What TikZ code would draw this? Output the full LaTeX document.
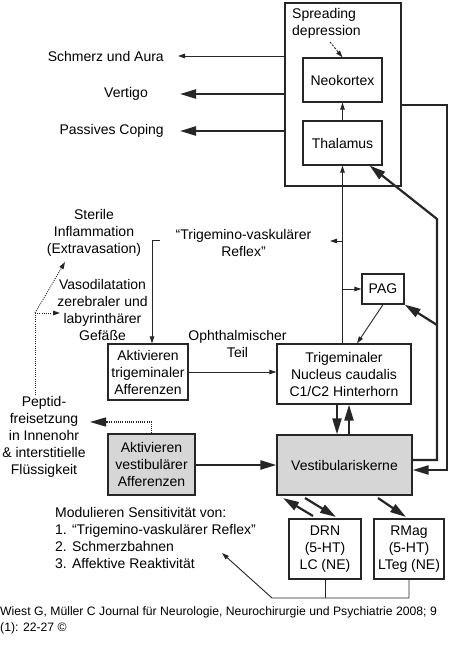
\documentclass[tikz,border=0pt]{standalone}
\usepackage{fontspec}
\setmainfont{Liberation Sans}
\usetikzlibrary{arrows.meta}
\newcommand\diagfont{\fontsize{14}{17}\selectfont}
\newcommand\capfont{\fontsize{12.2}{16}\selectfont}
\definecolor{ln}{HTML}{262626}
\definecolor{boxgray}{HTML}{D6D6D6}
\begin{document}
\begin{tikzpicture}[x=1pt,y=-1pt,
  box/.style={draw=ln,line width=1.2pt,inner sep=0pt,align=center,font=\diagfont,text=black},
  lab/.style={inner sep=0pt,align=center,font=\diagfont,text=black},
  thinline/.style={draw=ln,line width=0.9pt},
  thinarr/.style={thinline,-{Triangle[length=7pt,width=4.5pt]}},
  thickline/.style={draw=ln,line width=2.2pt},
  thickarr/.style={thickline,-{Triangle[length=16pt,width=9pt]}},
  dotline/.style={dash pattern=on 1pt off 1.2pt}
]
\fill[white] (0,0) rectangle (450,661);
\useasboundingbox (0,0) rectangle (450,661);

% boxes
\node[box,minimum width=116pt,minimum height=183pt] (brain) at (343,94.5) {};
\node[box,minimum width=79pt,minimum height=44pt] (neo) at (342.5,80) {Neokortex};
\node[box,minimum width=79pt,minimum height=44pt] (thal) at (342.5,143) {Thalamus};
\node[box,minimum width=42pt,minimum height=30pt] (pag) at (383,289) {PAG};
\node[box,minimum width=134pt,minimum height=60pt] (trig) at (344,374) {Trigeminaler\\Nucleus caudalis\\C1/C2 Hinterhorn};
\node[box,minimum width=80pt,minimum height=56pt] (atrig) at (148,372) {Aktivieren\\trigeminaler\\Afferenzen};
\node[box,fill=boxgray,minimum width=87pt,minimum height=61pt] (avest) at (151.5,464.5) {Aktivieren\\vestibulärer\\Afferenzen};
\node[box,fill=boxgray,minimum width=135pt,minimum height=60pt] (vest) at (344.5,465) {Vestibulariskerne};
\node[box,minimum width=72pt,minimum height=60pt] (drn) at (325,549) {DRN\\(5-HT)\\LC (NE)};
\node[box,minimum width=70pt,minimum height=60pt] (rmag) at (409,549) {RMag\\(5-HT)\\LTeg (NE)};

% labels
\node[lab,anchor=west,align=left] (spr) at (292,23.5) {Spreading\\depression};
\node[lab,anchor=east] (sch) at (164,56) {Schmerz und Aura};
\node[lab,anchor=east] (ver) at (148,94) {Vertigo};
\node[lab,anchor=east] (pas) at (164,131) {Passives Coping};
\node[lab] (refl) at (243.5,243) {“Trigemino-vaskulärer\\Reflex”};
\node[lab] (ster) at (94,232.5) {Sterile\\Inflammation\\(Extravasation)};
\node[lab] (vaso) at (102.5,309.5) {Vasodilatation\\zerebraler und\\labyrinthärer\\Gefäße};
\node[lab] (oph) at (237.5,343.5) {Ophthalmischer\\Teil};
\node[lab] (pep) at (44,436.5) {Peptid-\\freisetzung\\in Innenohr\\\& interstitielle\\Flüssigkeit};
\node[lab,anchor=west,align=left] (mod) at (55,537.5) {Modulieren Sensitivität von:\\1. “Trigemino-vaskulärer Reflex”\\2. Schmerzbahnen\\3. Affektive Reaktivität};
\node[inner sep=0pt,anchor=north west,align=left,font=\capfont] (cap) at (0,606.5) {Wiest G, Müller C Journal für Neurologie, Neurochirurgie und Psychiatrie 2008; 9\\(1): 22-27 ©};

% free ends
\coordinate (schend) at (178,56);
\coordinate (verend) at (180,94);
\coordinate (pasend) at (180,131);
\coordinate (sprtail) at (330,42);
\coordinate (reflend) at (330,241);
\coordinate (brk) at (160,240);
\coordinate (dj) at (35,313);
\coordinate (peptop) at (35,395);
\coordinate (vasoend) at (60,313);
\coordinate (sterend) at (65,262);
\coordinate (pepend) at (90,422);
\coordinate (rA) at (437,219);
\coordinate (rB) at (437,325);
\coordinate (rC) at (447,470);
\coordinate (d1a) at (313,516);
\coordinate (d1b) at (283,498);
\coordinate (d2a) at (305,498);
\coordinate (d2b) at (336,517);
\coordinate (d3a) at (378,498);
\coordinate (d3b) at (406,517);
\coordinate (bk) at (272,598);
\coordinate (modend) at (222,553);

% output arrows
\draw[thinarr] (brain.west |- sch) -- (schend);
\draw[thickarr] (brain.west |- ver) -- (verend);
\draw[thickarr] (brain.west |- pas) -- (pasend);

% spreading depression
\draw[thinarr,dash pattern=on 2pt off 1.5pt] (sprtail) -- (neo.north);

% thalamus -> neokortex
\draw[thinarr] (thal.north) -- (neo.south);

% trig -> thalamus, with branches
\draw[thinarr] (thal.south |- trig.north) -- (thal.south);
\draw[thinarr] (thal.south |- reflend) -- (reflend);
\draw[thinarr] (thal.south |- pag.west) -- (pag.west);
\draw[thinarr] (pag.south) -- ([xshift=13pt]trig.north);

% reflex bracket
\draw[thinarr] (brk) -| ([xshift=4pt]atrig.north);

% atrig -> trig
\draw[thinarr] (atrig.east) -- (atrig.east -| trig.west);

% dotted peptide arrows
\draw[thinline,dotline] (peptop) -- (dj);
\draw[thinarr,dotline] (dj) -- (vasoend);
\draw[thinarr,dotline] (dj) -- (sterend);
\draw[draw=ln,line width=1.3pt,dotline,-{Triangle[length=16pt,width=9pt]}] (avest.north) |- (pepend);

% avest -> vest
\draw[thickarr] (avest.east |- vest.west) -- (vest.west);

% trig <-> vest
\draw[thickarr] ([xshift=-7pt]trig.south) -- ([xshift=-7pt]trig.south |- vest.north);
\draw[thickarr] ([xshift=5pt]trig.south |- vest.north) -- ([xshift=5pt]trig.south);

% right loops
\draw[thickarr] ([yshift=5pt]vest.east) -| (rA) -- ([xshift=-13pt]thal.south east);
\draw[thickarr] (rB) -- (pag.south east);
\draw[thickarr] ([yshift=-10.5pt]brain.east) -| (rC) -- (rC -| vest.east);

% vest <-> DRN / RMag
\draw[thickarr] (d1a) -- (d1b);
\draw[thickarr] (d2a) -- (d2b);
\draw[thickarr] (d3a) -- (d3b);

% bottom feedback
\draw[thinline] (drn.south) -- (drn.south |- bk);
\draw[thinarr] (rmag.south) |- (bk) -- (modend);
\end{tikzpicture}
\end{document}
